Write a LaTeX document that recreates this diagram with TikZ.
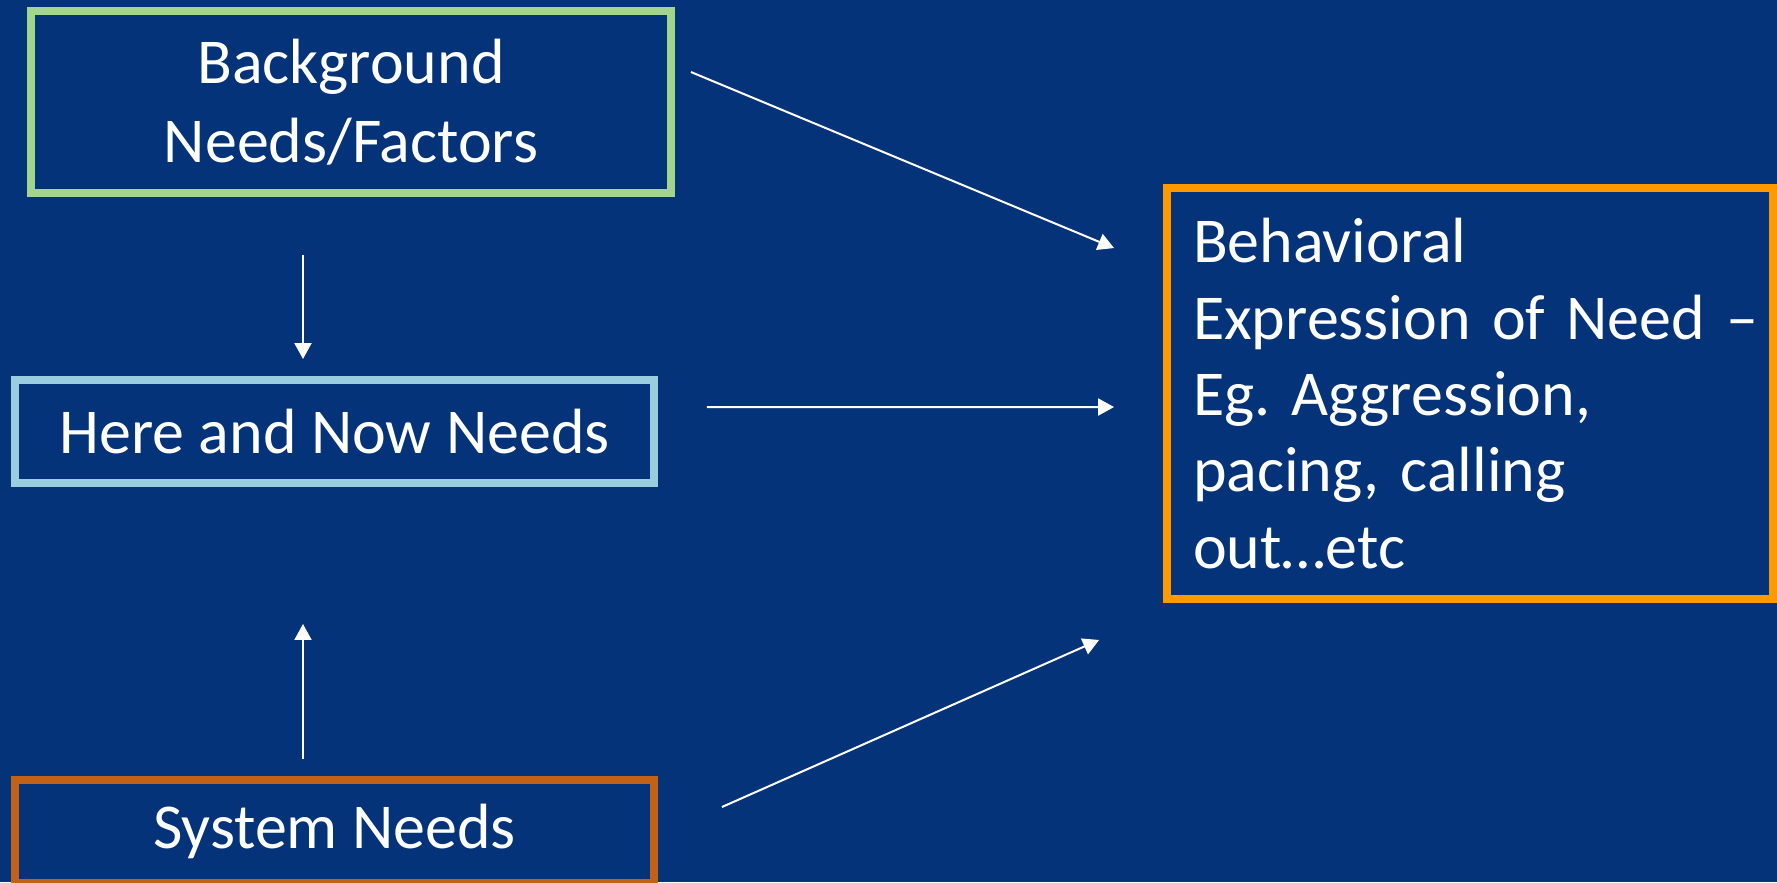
\documentclass[tikz,border=0pt]{standalone}
\usepackage{fontspec}
\setmainfont{Carlito}
\usetikzlibrary{arrows.meta}
\definecolor{navy}{RGB}{4,51,121}
\definecolor{bggreen}{RGB}{163,213,140}
\definecolor{nowblue}{RGB}{155,205,224}
\definecolor{sysbrown}{RGB}{194,98,24}
\definecolor{behorange}{RGB}{255,153,0}

\begin{document}
\begin{tikzpicture}[x=0.02cm,y=-0.02cm,
    needbox/.style={draw, line width=0.16cm, fill=navy, text=white, inner sep=0pt,
        font=\fontsize{36.4}{44.9}\selectfont\frenchspacing},
    flow/.style={draw=white, line width=0.04cm, -{Triangle[length=0.32cm,width=0.34cm]}}]
    \fill[navy] (0,0) rectangle (1777,882);
    \useasboundingbox (0,0) rectangle (1777,882);
    \node[needbox, draw=bggreen, align=center, minimum width=12.8cm, minimum height=3.64cm] (bg) at (351,102) {Background\\Needs/Factors};
    \node[needbox, draw=nowblue, minimum width=12.78cm, minimum height=2.06cm] (now) at (334.5,431.5) {Here and Now Needs};
    \node[needbox, draw=sysbrown, minimum width=12.78cm, minimum height=2.06cm] (sys) at (334.5,831.5) {System Needs};
    \node[needbox, draw=behorange, align=left, inner xsep=0.52cm, text width=11.08cm, minimum height=8.22cm,
        font=\fontsize{36.4}{43.5}\selectfont\frenchspacing] (beh) at (1470,393.5)
        {Behavioral\\\mbox{Expression of Need --}\\Eg. Aggression,\\pacing, calling\\out…etc};
    \draw[flow] ([shift={(16,65)}]bg.north east) -- ([shift={(-49,64)}]beh.north west);
    \draw[flow] ([shift={(49,31)}]now.north east) -- ([shift={(-49,223)}]beh.north west);
    \draw[flow] ([shift={(64,31)}]sys.north east) -- ([shift={(-64,37)}]beh.south west);
    \draw[flow] ([shift={(-48,58)}]bg.south) -- ([shift={(-31.5,-17)}]now.north);
    \draw[flow] ([shift={(-31.5,-17)}]sys.north) -- ([shift={(-31.5,137)}]now.south);
\end{tikzpicture}
\end{document}
